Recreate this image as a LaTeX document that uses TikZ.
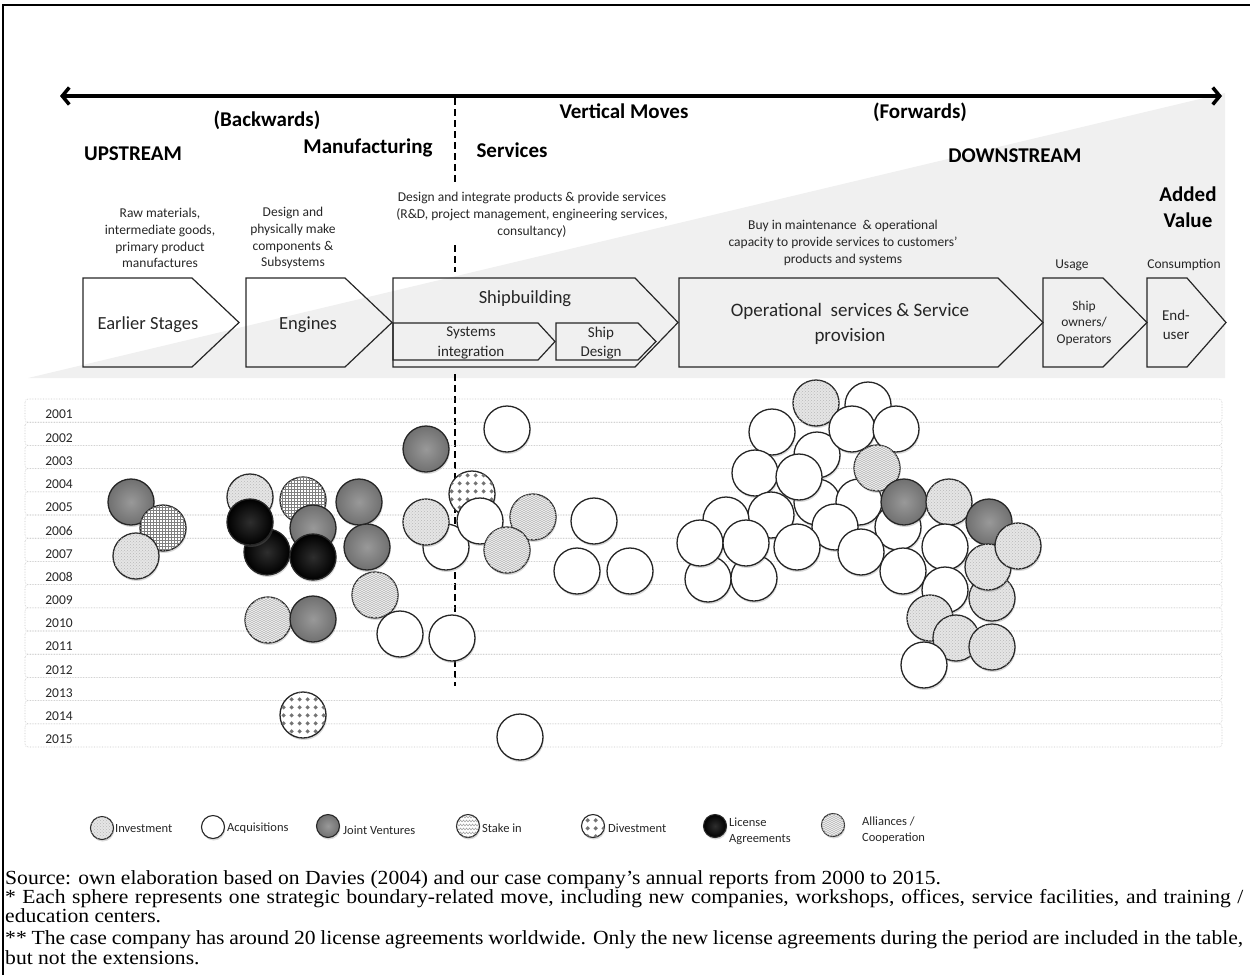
\documentclass[tikz,border=0pt]{standalone}
\usepackage{fontspec}
\setmainfont{Carlito}
\newfontfamily\tnr[FakeStretch=1.08]{Liberation Serif}
\usetikzlibrary{arrows.meta,shadows,patterns,patterns.meta}

\tikzdeclarepattern{
  name=zigzag, type=uncolored,
  bottom left={(-0.1pt,-0.1pt)}, top right={(4.1pt,4.1pt)},
  tile size={(4pt,4pt)},
  code={\draw[line width=0.4pt] (0pt,0pt) -- (2pt,2pt) -- (4pt,0pt) (0pt,2pt) -- (2pt,4pt) -- (4pt,2pt);}
}
\tikzdeclarepattern{
  name=waves, type=uncolored,
  bottom left={(-0.1pt,-0.1pt)}, top right={(6.1pt,4.1pt)},
  tile size={(6pt,4pt)},
  code={\draw[line width=0.5pt] (0pt,1pt) -- (1.5pt,3pt) -- (3pt,1pt) -- (4.5pt,3pt) -- (6pt,1pt);}
}
\tikzdeclarepattern{
  name=plusdots, type=uncolored,
  bottom left={(0pt,0pt)}, top right={(8pt,8pt)},
  tile size={(8pt,8pt)},
  code={\fill (4pt,1.6pt) -- (6.4pt,4pt) -- (4pt,6.4pt) -- (1.6pt,4pt) -- cycle;}
}

\tikzset{
  bub/.style={circle, draw=black!85, line width=1.3pt, minimum size=46pt, inner sep=0pt,
    drop shadow={opacity=0.3, shadow xshift=0.8pt, shadow yshift=-2pt}},
  acq/.style={bub, fill=white},
  jv/.style={bub, inner color=black!40, outer color=black!56},
  lic/.style={bub, inner color=black!82, outer color=black},
  inv/.style={bub, fill=black!10, postaction={pattern=crosshatch dots, pattern color=black!28}},
  ally/.style={bub, fill=white, postaction={pattern=grid, pattern color=black!50}},
  stk/.style={bub, fill=black!4, postaction={pattern=zigzag, pattern color=black!28}},
  wav/.style={bub, fill=white, postaction={pattern=waves, pattern color=black!40}},
  div/.style={bub, fill=white, postaction={pattern=plusdots, pattern color=black!55}},
  legb/.style={minimum size=23pt, line width=1.1pt},
  chev/.style={draw=black!85, line width=1.2pt, line join=miter},
  hdr/.style={font=\fontsize{21}{26}\selectfont\bfseries, inner sep=0pt, align=center},
  desc/.style={font=\fontsize{13.5}{16.8}\selectfont, align=center, text=black!85, inner sep=0pt},
  clab/.style={font=\fontsize{18.5}{25}\selectfont, align=center, text=black!85, inner sep=0pt},
  slab/.style={font=\fontsize{15}{19.5}\selectfont, align=center, text=black!85, inner sep=0pt},
  tlab/.style={font=\fontsize{13.5}{16.5}\selectfont, align=center, text=black!85, inner sep=0pt},
  yr/.style={font=\fontsize{13.5}{16}\selectfont, text=black!85, inner sep=0pt},
  leg/.style={font=\fontsize{12.5}{16}\selectfont, text=black!85, anchor=west, align=left, inner sep=0pt},
  rowbox/.style={draw=black!22, densely dotted, rounded corners=3pt, line width=0.6pt},
  foot/.style={font=\tnr\fontsize{20}{19}\selectfont, inner sep=0pt, anchor=base west},
  vdash/.style={line width=2.6pt, dash pattern=on 7pt off 4pt}
}

\begin{document}
\begin{tikzpicture}[x=1pt,y=-1pt]
\useasboundingbox (0,0) rectangle (1250,975);

% frame
\draw[line width=2pt] (3,975) -- (3,5) -- (1250,5);

% background wedge
\fill[black!6] (28,378) -- (1225,93) -- (1225,378) -- cycle;

% main double arrow
\coordinate (aL) at (60,96);
\coordinate (aR) at (1222,96);
\draw[line width=3.5pt, {Straight Barb[length=7pt,width=17pt]}-{Straight Barb[length=7pt,width=17pt]}] (aL) -- (aR);

% dashed divider
\draw[vdash] (455,98) -- (455,182);
\draw[vdash] (455,245) -- (455,272);
\draw[vdash] (455,374) -- (455,686);

% headers
\node[hdr] (back) at (267,120) {(Backwards)};
\node[hdr] (vert) at (624,111) {Vertical Moves};
\node[hdr] (forw) at (920,112) {(Forwards)};
\node[hdr] (up) at (133,154) {UPSTREAM};
\node[hdr] (manu) at (368,148) {Manufacturing};
\node[hdr] (serv) at (512,150) {Services};
\node[hdr] (down) at (1015,156) {DOWNSTREAM};
\node[hdr] (added) at (1188,207) {Added\\Value};

% descriptions
\node[desc] (d1) at (160,238) {Raw materials,\\intermediate goods,\\primary product\\manufactures};
\node[desc] (d2) at (293,238) {Design and\\physically make\\components \&\\Subsystems};
\node[desc] (d3) at (532,215) {Design and integrate products \& provide services\\(R\&D, project management, engineering services,\\consultancy)};
\node[desc] (d4) at (843,243) {Buy in maintenance\ \ \& operational\\capacity to provide services to customers’\\products and systems};
\node[desc] (d5) at (1072,265) {Usage};
\node[desc] (d6) at (1184,265) {Consumption};

% chevrons
\draw[chev] (83,278) -- (192,278) -- (239,322.5) -- (192,367) -- (83,367) -- cycle;
\draw[chev] (246,278) -- (345,278) -- (392,322.5) -- (345,367) -- (246,367) -- cycle;
\draw[chev] (393,278) -- (635,278) -- (678,322.5) -- (635,367) -- (393,367) -- cycle;
\draw[chev] (393,323) -- (538,323) -- (555,341.5) -- (538,360) -- (393,360) -- cycle;
\draw[chev] (556,323) -- (638,323) -- (656,341.5) -- (638,360) -- (556,360) -- cycle;
\draw[chev] (679,278) -- (998,278) -- (1043,322.5) -- (998,367) -- (679,367) -- cycle;
\draw[chev] (1043,278) -- (1103,278) -- (1147,322.5) -- (1103,367) -- (1043,367) -- cycle;
\draw[chev] (1147,278) -- (1187,278) -- (1226,322.5) -- (1187,367) -- (1147,367) -- cycle;

\node[clab] (c1) at (148,325) {Earlier Stages};
\node[clab] (c2) at (308,325) {Engines};
\node[clab] (c3) at (525,299) {Shipbuilding};
\node[slab] (c4) at (471,343) {Systems\\integration};
\node[slab] (c5) at (601,343) {Ship\\Design};
\node[font=\fontsize{19}{25}\selectfont, align=center, text=black!85, inner sep=0pt] (c6) at (850,324) {Operational\ \ services \& Service\\provision};
\node[tlab] (c7) at (1084,323) {Ship\\owners/\\Operators};
\node[slab, font=\fontsize{15}{18.5}\selectfont] (c8) at (1176,325) {End-\\user};

% year rows
\foreach \yy [count=\k from 0] in {2001,...,2015} {
  \draw[rowbox] (25,{399+23.2*\k}) rectangle (1222,{399+23.2*\k+23.2});
  \node[yr] (y\yy) at (59,{399+23.2*\k+15.5}) {\yy};
}

% bubbles - left group
\node[jv]   (b1) at (131,502) {};
\node[ally] (b2) at (163,528) {};
\node[inv]  (b3) at (136,556) {};
% manufacturing group
\node[inv]  (b4) at (250,497) {};
\node[ally] (b5) at (303,500) {};
\node[lic]  (b6) at (267,552) {};
\node[lic]  (b7) at (250,522) {};
\node[jv]   (b8) at (313,528) {};
\node[lic]  (b9) at (313,557) {};
\node[jv]   (b10) at (359,502) {};
\node[jv]   (b11) at (367,547) {};
\node[stk]  (b12) at (375,595) {};
\node[stk]  (b13) at (268,620) {};
\node[jv]   (b14) at (313,619) {};
\node[acq]  (b15) at (400,634) {};
\node[acq]  (b16) at (452,638) {};
\node[div]  (b17) at (303,715) {};
% services group
\node[jv]   (b18) at (426,449) {};
\node[acq]  (b19) at (507,429) {};
\node[div]  (b20) at (472,494) {};
\node[acq]  (b21) at (446,547) {};
\node[inv]  (b22) at (426,522) {};
\node[acq]  (b23) at (480,521) {};
\node[stk]  (b24) at (533,517) {};
\node[stk]  (b25) at (507,550) {};
\node[acq]  (b26) at (594,521) {};
\node[acq]  (b27) at (577,571) {};
\node[acq]  (b28) at (630,571) {};
\node[acq]  (b29) at (520,737) {};
% operational services cluster
\node[acq]  (b30) at (868,405) {};
\node[inv]  (b31) at (816,403) {};
\node[acq]  (b32) at (817,455) {};
\node[acq]  (b33) at (852,429) {};
\node[acq]  (b34) at (896,429) {};
\node[acq]  (b35) at (772,432) {};
\node[acq]  (b36) at (817,502) {};
\node[acq]  (b37) at (859,502) {};
\node[acq]  (b38) at (898,527) {};
\node[stk]  (b39) at (877,468) {};
\node[jv]   (b40) at (904,502) {};
\node[inv]  (b41) at (949,502) {};
\node[acq]  (b42) at (755,473) {};
\node[acq]  (b43) at (799,477) {};
\node[acq]  (b44) at (771,515) {};
\node[acq]  (b45) at (708,579) {};
\node[acq]  (b46) at (754,578) {};
\node[acq]  (b47) at (726,520) {};
\node[acq]  (b48) at (700,543) {};
\node[acq]  (b49) at (746,543) {};
\node[acq]  (b50) at (835,527) {};
\node[acq]  (b51) at (861,552) {};
\node[acq]  (b52) at (797,547) {};
\node[acq]  (b53) at (945,547) {};
\node[jv]   (b54) at (989,522) {};
\node[acq]  (b55) at (903,571) {};
\node[acq]  (b56) at (945,590) {};
\node[inv]  (b57) at (992,598) {};
\node[inv]  (b58) at (988,567) {};
\node[inv]  (b59) at (1018,546) {};
\node[inv]  (b60) at (930,618) {};
\node[inv]  (b61) at (956,638) {};
\node[inv]  (b62) at (992,647) {};
\node[acq]  (b63) at (924,665) {};

% legend
\node[inv, legb]  (li) at (102,828) {};
\node[leg] (lti) at (115,829) {Investment};
\node[acq, legb]  (la) at (213,827) {};
\node[leg] (lta) at (227,828) {Acquisitions};
\node[jv, legb]   (lj) at (328,826) {};
\node[leg] (ltj) at (343,830) {Joint Ventures};
\node[wav, legb]  (ls) at (468,826) {};
\node[leg] (lts) at (482,828) {Stake in};
\node[div, legb]  (ld) at (593,826) {};
\node[leg] (ltd) at (608,828) {Divestment};
\node[lic, legb]  (ll) at (715,826) {};
\node[leg] (ltl) at (729,831) {License\\Agreements};
\node[stk, legb]  (lc) at (833,825) {};
\node[leg] (ltc) at (862,830) {Alliances /\\Cooperation};

% footnote
\node[foot] (f1) at (5,884) {Source: own elaboration based on Davies (2004) and our case company’s annual reports from 2000 to 2015.};
\node[foot] (f2) at (5,903) {\hbox to 1238pt{* Each sphere represents one strategic boundary-related move, including new companies, workshops, offices, service facilities, and training /}};
\node[foot] (f3) at (5,922) {education centers.};
\node[foot] (f4) at (5,944) {\hbox to 1238pt{** The case company has around 20 license agreements worldwide. Only the new license agreements during the period are included in the table,}};
\node[foot] (f5) at (5,964) {but not the extensions.};
\end{tikzpicture}
\end{document}
